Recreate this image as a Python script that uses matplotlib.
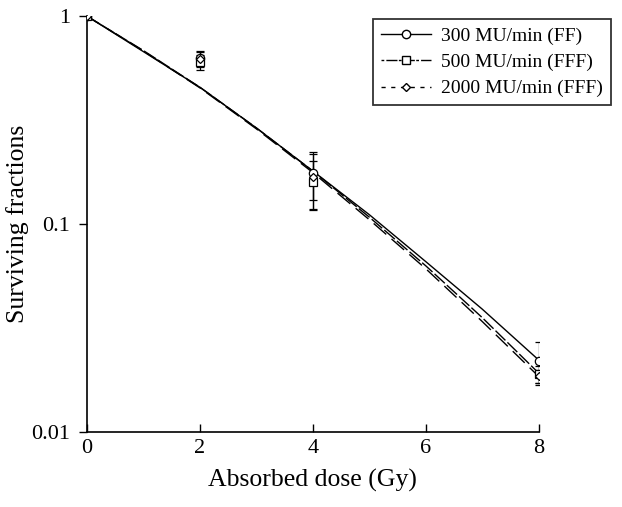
import numpy as np
import matplotlib.pyplot as plt
from matplotlib.lines import Line2D

plt.rcParams['font.family'] = ['Liberation Serif', 'DejaVu Serif']

# measured points
dose = [0, 2, 4, 8]
sf_300 = [1.0, 0.63, 0.176, 0.0220]
err_300 = [0.0, 0.05, 0.046, 0.0052]
sf_500 = [1.0, 0.60, 0.159, 0.0190]
err_500 = [0.0, 0.05, 0.042, 0.0018]
sf_2000 = [1.0, 0.62, 0.168, 0.0185]
err_2000 = [0.0, 0.05, 0.050, 0.0013]

# fitted curves
fit_dose = [0, 1, 2, 3, 4, 5, 6, 7, 8]
fit_300 = [1.0, 0.675, 0.455, 0.290, 0.180, 0.111, 0.066, 0.039, 0.0222]
fit_500 = [1.0, 0.683, 0.455, 0.290, 0.180, 0.108, 0.063, 0.0355, 0.0192]
fit_2000 = [1.0, 0.680, 0.452, 0.287, 0.177, 0.105, 0.061, 0.0340, 0.0185]

labels = ['300 MU/min (FF)', '500 MU/min (FFF)', '2000 MU/min (FFF)']

fig = plt.figure(figsize=(6.22, 5.07), dpi=100)
ax = fig.add_axes([0.14, 0.148, 0.726, 0.82])

ax.plot(fit_dose, fit_300, color='black', lw=1.0, ls='-')
ax.plot(fit_dose, fit_500, color='black', lw=1.0, ls=(0, (10, 2)))
ax.plot(fit_dose, fit_2000, color='black', lw=1.0, ls=(0, (12, 5)))

ax.errorbar(dose, sf_300, yerr=err_300, fmt='o', mfc='white', mec='black',
            ms=6, mew=0.9, ecolor='black', elinewidth=0.9, capsize=3, zorder=4)
ax.errorbar(dose, sf_500, yerr=err_500, fmt='s', mfc='white', mec='black',
            ms=6, mew=0.9, ecolor='black', elinewidth=0.9, capsize=3, zorder=4)
ax.errorbar(dose, sf_2000, yerr=err_2000, fmt='D', mfc='white', mec='black',
            ms=4, mew=0.9, ecolor='black', elinewidth=0.9, capsize=3, zorder=4)

ax.set_yscale('log')
ax.set_ylim(0.01, 1)
ax.set_xlim(0, 8)
ax.set_xticks([0, 2, 4, 6, 8])
ax.set_yticks([0.01, 0.1, 1])
ax.set_yticklabels(['0.01', '0.1', '1'])
ax.minorticks_off()
ax.yaxis.set_minor_locator(plt.NullLocator())

for s in ['top', 'right']:
    ax.spines[s].set_visible(False)
for s in ['left', 'bottom']:
    ax.spines[s].set_linewidth(1.2)

ax.tick_params(axis='x', direction='in', length=6, width=1.0, labelsize=16, pad=5)
ax.tick_params(axis='y', direction='out', length=6, width=1.0, labelsize=16, pad=6)

ax.set_xlabel('Absorbed dose (Gy)', fontsize=18.5, labelpad=8)
ax.set_ylabel('Surviving fractions', fontsize=18.5, labelpad=2)

handles = [
    Line2D([], [], color='black', lw=1.0, ls='-', marker='o', mfc='white', mec='black', ms=6),
    Line2D([], [], color='black', lw=1.0, ls=(0, (2, 1.5, 8, 1)), marker='s', mfc='white', mec='black', ms=6),
    Line2D([], [], color='black', lw=1.0, ls=(0, (3, 4)), marker='D', mfc='white', mec='black', ms=4),
]
leg = fig.legend(handles, labels, loc='upper right', bbox_to_anchor=(0.988, 0.97),
                 fontsize=14, frameon=True, fancybox=False, edgecolor='black',
                 handlelength=2.6, handletextpad=0.5, borderpad=0.4, labelspacing=0.45,
                 borderaxespad=0.2)
leg.get_frame().set_linewidth(1.3)

plt.savefig('out.png', dpi=100)
